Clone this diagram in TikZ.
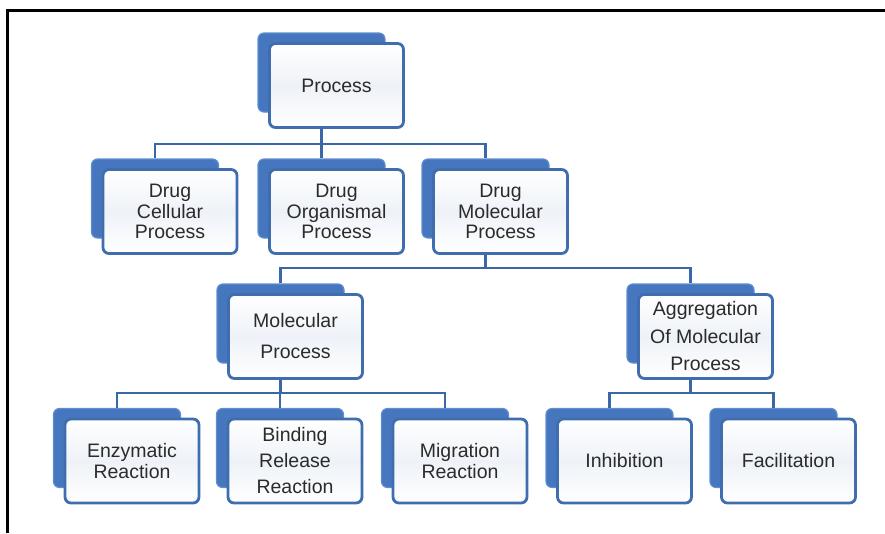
\documentclass[tikz,border=0pt]{standalone}
\usepackage{fontspec}
\setmainfont{Liberation Sans}
\definecolor{shadowblue}{HTML}{4677BE}
\definecolor{shadowedge}{HTML}{5E8ED0}
\definecolor{edgeblue}{HTML}{3F6DAE}
\definecolor{lineblue}{HTML}{3A67A8}
\definecolor{boxfill}{HTML}{EEF2F8}
\definecolor{txt}{HTML}{2B2B2B}
\begin{document}
\begin{tikzpicture}[x=1pt,y=-1pt,
  front/.style={rectangle, rounded corners=6pt, draw=edgeblue, line width=2.8pt,
    top color=white, bottom color=white, middle color=boxfill,
    minimum width=134pt, minimum height=84pt, inner sep=0pt,
    align=center, text=txt, font=\fontsize{19.5}{#1}\selectfont},
  front/.default=20.5,
  backbox/.style={rectangle, rounded corners=6pt, draw=shadowedge, line width=1.2pt,
    fill=shadowblue, minimum width=127pt, minimum height=79pt, inner sep=0pt},
  conn/.style={draw=lineblue, line width=2.9pt},
  frameline/.style={draw=black, line width=3pt}
]
\useasboundingbox (0,0) rectangle (885,533);
\coordinate (fo) at (7.5,533);
\coordinate (fc) at (7.5,10);
\coordinate (fe) at (885,10);
\draw[frameline] (fo) -- (fc) -- (fe);

% level 0
\node[backbox] (s0) at (321.5,72.5) {};
\node[front] (n0) at (336.5,85.5) {Process};
% level 1
\node[backbox] (s1) at (155,198.5) {};
\node[front] (n1) at (170,211.5) {Drug\\Cellular\\Process};
\node[backbox] (s2) at (321.5,198.5) {};
\node[front] (n2) at (336.5,211.5) {Drug\\Organismal\\Process};
\node[backbox] (s3) at (485.5,198.5) {};
\node[front] (n3) at (500.5,211.5) {Drug\\Molecular\\Process};
% level 2
\node[backbox] (s4) at (280.5,323.5) {};
\node[front=31] (n4) at (295.5,336.5) {Molecular\\Process};
\node[backbox] (s5) at (690.5,323.5) {};
\node[front=27.5] (n5) at (705.5,336.5) {Aggregation\\Of Molecular\\Process};
% level 3
\node[backbox] (s6) at (117,448) {};
\node[front=21] (n6) at (132,461) {Enzymatic\\Reaction};
\node[backbox] (s7) at (280,448) {};
\node[front=26] (n7) at (295,461) {Binding\\Release\\Reaction};
\node[backbox] (s8) at (445,448) {};
\node[front=20.5] (n8) at (460,461) {Migration\\Reaction};
\node[backbox] (s9) at (609.5,448) {};
\node[front] (n9) at (624.5,461) {Inhibition};
\node[backbox] (s10) at (773.5,448) {};
\node[front] (n10) at (788.5,461) {Facilitation};

% bars
\coordinate (b0) at (0,144);
\coordinate (b1) at (0,268);
\coordinate (b2) at (0,393);

% connectors
\draw[conn] (s0.center |- n0.south) -- (s0.center |- b0);
\draw[conn] (s1.north) |- (s3.center |- b0) -- (s3.north);
\draw[conn] (s2.north) -- (s2.center |- b0);

\draw[conn] (s3.center |- n3.south) -- (s3.center |- b1);
\draw[conn] (s4.north) |- (s5.center |- b1) -- (s5.north);

\draw[conn] (s4.center |- n4.south) -- (s4.center |- b2);
\draw[conn] (s6.north) |- (s8.center |- b2) -- (s8.north);
\draw[conn] (s7.north) -- (s7.center |- b2);

\draw[conn] (s5.center |- n5.south) -- (s5.center |- b2);
\draw[conn] (s9.north) |- (s10.center |- b2) -- (s10.north);
\end{tikzpicture}
\end{document}
